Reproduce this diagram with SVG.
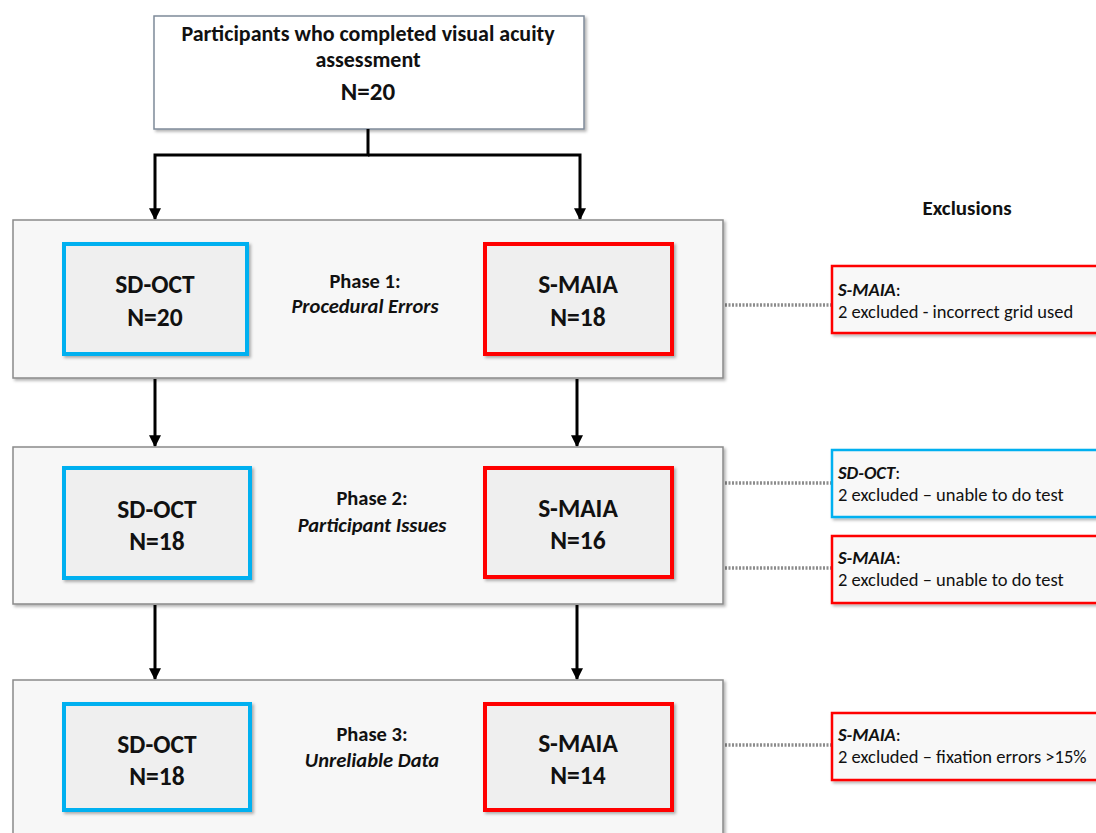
<svg xmlns="http://www.w3.org/2000/svg" width="1096" height="833" viewBox="0 0 1096 833">
<style>
text{font-family:Carlito,Lato,"Liberation Sans",sans-serif;fill:#111}
.b{font-weight:bold}
.i{font-style:italic}
.phase{fill:#f7f7f7;stroke:#8a8a8a;stroke-width:1.5}
.top{fill:#fff;stroke:#7f8a99;stroke-width:1.5}
.blue{fill:#efefef;stroke:#00b0f0;stroke-width:4}
.red{fill:#efefef;stroke:#ff0000;stroke-width:4}
.exb{fill:#f8f8f8;stroke:#00b0f0;stroke-width:2.5}
.exr{fill:#f8f8f8;stroke:#ff0000;stroke-width:2.5}
.arr{fill:none;stroke:#000;stroke-width:3}
.dot{fill:none;stroke:#8c8c8c;stroke-width:3.5;stroke-dasharray:2 1.5}
.big{font-size:25.5px;font-weight:bold;text-anchor:middle}
.ph{font-size:20.5px;text-anchor:middle}
.ex{font-size:18.5px}
</style>
<defs>
<marker id="ah" viewBox="0 0 10 10" refX="9" refY="5" markerWidth="4" markerHeight="4" orient="auto" markerUnits="strokeWidth">
<path d="M0,0 L10,5 L0,10 z" fill="#000"/>
</marker>
<filter id="sh" x="-5%" y="-5%" width="115%" height="120%">
<feDropShadow dx="2" dy="2" stdDeviation="1.5" flood-color="#000" flood-opacity="0.3"/>
</filter>
</defs>

<g id="top">
<rect class="top" x="154" y="16" width="430" height="113" filter="url(#sh)"/>
<text class="b" x="368" y="41" font-size="22" text-anchor="middle">Participants who completed visual acuity</text>
<text class="b" x="368" y="67" font-size="22" text-anchor="middle">assessment</text>
<text class="b" x="368" y="100" font-size="25" text-anchor="middle">N=20</text>
</g>

<g id="connectors">
<path class="arr" d="M368,129 V155 H155 V219" marker-end="url(#ah)"/>
<path class="arr" d="M368,155 H580 V219" marker-end="url(#ah)"/>
<path class="arr" d="M155,379 V446" marker-end="url(#ah)"/>
<path class="arr" d="M577,379 V446" marker-end="url(#ah)"/>
<path class="arr" d="M155,605 V679" marker-end="url(#ah)"/>
<path class="arr" d="M577,605 V679" marker-end="url(#ah)"/>
<path class="dot" d="M725,305 H831"/>
<path class="dot" d="M725,483 H831"/>
<path class="dot" d="M725,568 H831"/>
<path class="dot" d="M725,745 H831"/>
</g>

<g id="phase1">
<rect class="phase" x="13" y="220" width="710" height="158" filter="url(#sh)"/>
<text class="ph b" x="365" y="288">Phase 1:</text>
<text class="ph b i" x="365" y="313">Procedural Errors</text>
</g>
<g id="p1-sdoct">
<rect class="blue" x="64" y="244" width="183" height="110" filter="url(#sh)"/>
<text class="big" x="155" y="293">SD-OCT</text>
<text class="big" x="155" y="326">N=20</text>
</g>
<g id="p1-smaia">
<rect class="red" x="485" y="244" width="187" height="110" filter="url(#sh)"/>
<text class="big" x="578" y="293">S-MAIA</text>
<text class="big" x="578" y="326">N=18</text>
</g>

<g id="phase2">
<rect class="phase" x="13" y="447" width="710" height="157" filter="url(#sh)"/>
<text class="ph b" x="372" y="505">Phase 2:</text>
<text class="ph b i" x="372" y="532">Participant Issues</text>
</g>
<g id="p2-sdoct">
<rect class="blue" x="64" y="468" width="186" height="110" filter="url(#sh)"/>
<text class="big" x="157" y="518">SD-OCT</text>
<text class="big" x="157" y="550">N=18</text>
</g>
<g id="p2-smaia">
<rect class="red" x="485" y="468" width="187" height="109" filter="url(#sh)"/>
<text class="big" x="578" y="517">S-MAIA</text>
<text class="big" x="578" y="549">N=16</text>
</g>

<g id="phase3">
<rect class="phase" x="13" y="680" width="710" height="165" filter="url(#sh)"/>
<text class="ph b" x="372" y="741">Phase 3:</text>
<text class="ph b i" x="372" y="767">Unreliable Data</text>
</g>
<g id="p3-sdoct">
<rect class="blue" x="64" y="704" width="186" height="106" filter="url(#sh)"/>
<text class="big" x="157" y="753">SD-OCT</text>
<text class="big" x="157" y="785">N=18</text>
</g>
<g id="p3-smaia">
<rect class="red" x="485" y="704" width="187" height="106" filter="url(#sh)"/>
<text class="big" x="578" y="752">S-MAIA</text>
<text class="big" x="578" y="784">N=14</text>
</g>

<g id="exclusions-title">
<text class="b" x="967" y="215" font-size="21" text-anchor="middle">Exclusions</text>
</g>
<g id="ex1">
<rect class="exr" x="832" y="266" width="270" height="67" filter="url(#sh)"/>
<text class="ex" x="838" y="296"><tspan class="b i">S-MAIA</tspan>:</text>
<text class="ex" x="838" y="318">2 excluded - incorrect grid used</text>
</g>
<g id="ex2">
<rect class="exb" x="832" y="450" width="270" height="67" filter="url(#sh)"/>
<text class="ex" x="838" y="479"><tspan class="b i">SD-OCT</tspan>:</text>
<text class="ex" x="838" y="501">2 excluded – unable to do test</text>
</g>
<g id="ex3">
<rect class="exr" x="832" y="536" width="270" height="67" filter="url(#sh)"/>
<text class="ex" x="838" y="564"><tspan class="b i">S-MAIA</tspan>:</text>
<text class="ex" x="838" y="586">2 excluded – unable to do test</text>
</g>
<g id="ex4">
<rect class="exr" x="832" y="713" width="270" height="67" filter="url(#sh)"/>
<text class="ex" x="838" y="741"><tspan class="b i">S-MAIA</tspan>:</text>
<text class="ex" x="838" y="763">2 excluded –  fixation errors &gt;15%</text>
</g>
</svg>
